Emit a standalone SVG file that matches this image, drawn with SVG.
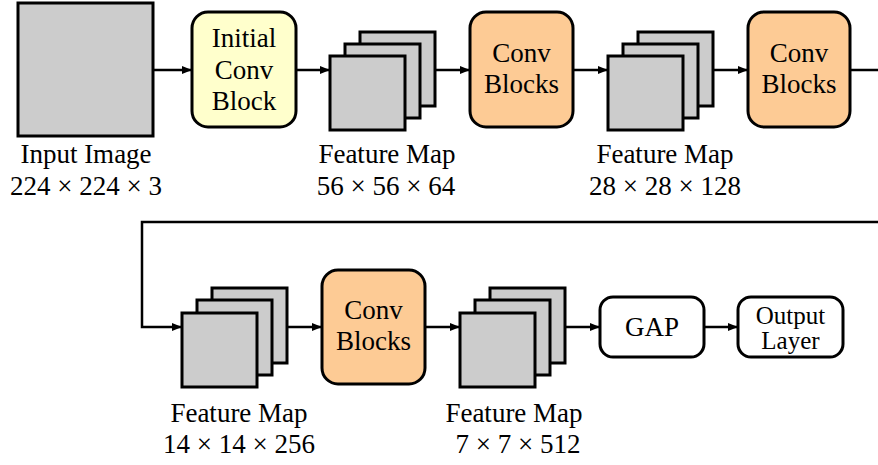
<svg xmlns="http://www.w3.org/2000/svg" width="878" height="465" viewBox="0 0 878 465">
<defs>
<marker id="ah" viewBox="0 0 10 8" refX="10" refY="4" markerWidth="10" markerHeight="8" markerUnits="userSpaceOnUse" orient="auto">
<path d="M0,0 L10,4 L0,8 Z" fill="#000"/>
</marker>
</defs>
<style>
text{font-family:'Liberation Serif','DejaVu Serif',serif;font-size:27px;fill:#000;text-anchor:middle}
.sm{font-size:25px}
.sq{fill:#cccccc;stroke:#000;stroke-width:3}
.init{fill:#ffffcc;stroke:#000;stroke-width:3}
.conv{fill:#fdcb95;stroke:#000;stroke-width:3}
.plain{fill:#fff;stroke:#000;stroke-width:3}
.c{fill:none;stroke:#000;stroke-width:2.5}
.c path{marker-end:url(#ah)}
</style>
<rect width="878" height="465" fill="#fff"/>
<g id="connectors" class="c">
<path d="M153,70 H192"/>
<path d="M296,70 H330"/>
<path d="M435,70 H470"/>
<path d="M573,70 H608"/>
<path d="M713,70 H748"/>
<path d="M850,70 H892 V222 H142 V327 H182"/>
<path d="M287,327 H322"/>
<path d="M425,327 H460"/>
<path d="M565,327 H600"/>
<path d="M704,327 H738"/>
</g>
<g id="input">
<rect class="sq" x="18" y="3" width="135" height="133"/>
<text x="86" y="163">Input Image</text>
<text x="86" y="195">224 × 224 × 3</text>
</g>
<g id="initial">
<rect class="init" x="192" y="12" width="104" height="115" rx="16"/>
<text x="244" y="47">Initial</text>
<text x="244" y="79">Conv</text>
<text x="244" y="110">Block</text>
</g>
<g id="fm1">
<rect class="sq" x="360" y="32" width="75" height="74"/>
<rect class="sq" x="345" y="44" width="75" height="74"/>
<rect class="sq" x="330" y="56" width="75" height="74"/>
<text x="387" y="163">Feature Map</text>
<text x="386" y="195">56 × 56 × 64</text>
</g>
<g id="conv1">
<rect class="conv" x="470" y="12" width="103" height="115" rx="16"/>
<text x="521.5" y="62">Conv</text>
<text x="521.5" y="93">Blocks</text>
</g>
<g id="fm2">
<rect class="sq" x="638" y="32" width="75" height="74"/>
<rect class="sq" x="623" y="44" width="75" height="74"/>
<rect class="sq" x="608" y="56" width="75" height="74"/>
<text x="665" y="163">Feature Map</text>
<text x="665" y="195">28 × 28 × 128</text>
</g>
<g id="conv2">
<rect class="conv" x="748" y="12" width="102" height="115" rx="16"/>
<text x="799" y="62">Conv</text>
<text x="799" y="93">Blocks</text>
</g>
<g id="fm3">
<rect class="sq" x="212" y="288" width="75" height="75"/>
<rect class="sq" x="197" y="300" width="75" height="75"/>
<rect class="sq" x="182" y="313" width="75" height="74"/>
<text x="239" y="422">Feature Map</text>
<text x="239" y="453">14 × 14 × 256</text>
</g>
<g id="conv3">
<rect class="conv" x="322" y="270" width="103" height="114" rx="16"/>
<text x="373.5" y="319">Conv</text>
<text x="373.5" y="350">Blocks</text>
</g>
<g id="fm4">
<rect class="sq" x="490" y="288" width="75" height="75"/>
<rect class="sq" x="475" y="300" width="75" height="75"/>
<rect class="sq" x="460" y="313" width="75" height="74"/>
<text x="514" y="422">Feature Map</text>
<text x="518" y="453">7 × 7 × 512</text>
</g>
<g id="gap">
<rect class="plain" x="600" y="297" width="104" height="60" rx="13"/>
<text x="652" y="336">GAP</text>
</g>
<g id="output">
<rect class="plain" x="738" y="297" width="105" height="60" rx="13"/>
<text class="sm" x="790.5" y="324">Output</text>
<text class="sm" x="790.5" y="349">Layer</text>
</g>
</svg>
